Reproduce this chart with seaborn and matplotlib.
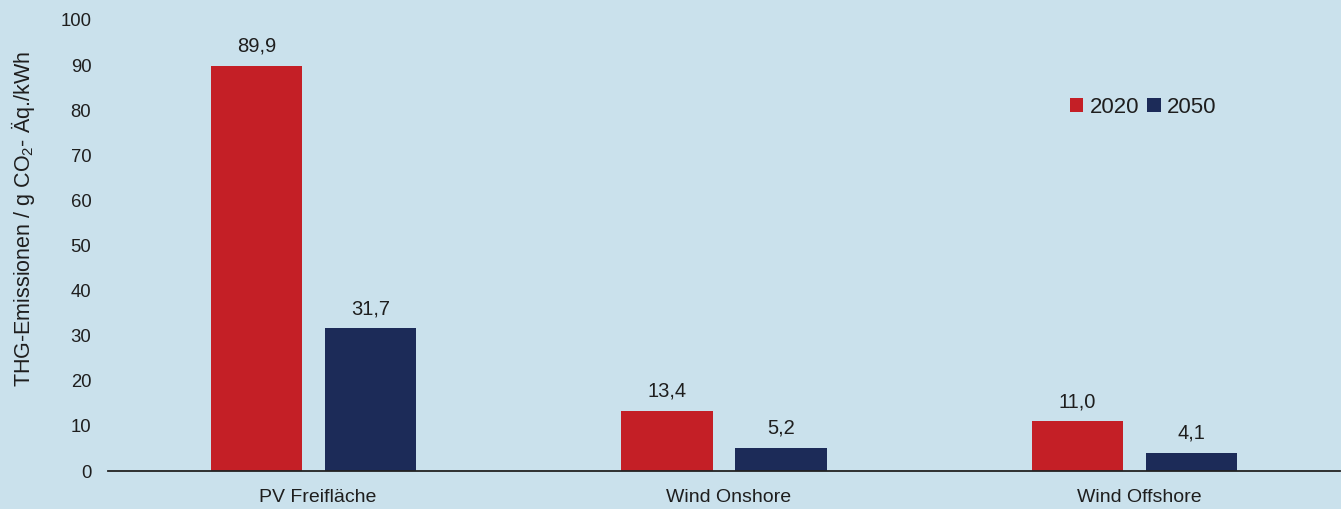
import matplotlib
matplotlib.use("Agg")
import matplotlib.pyplot as plt
from matplotlib.patches import Patch
from matplotlib.transforms import ScaledTranslation
import seaborn as sns
import pandas as pd

# Emissions per technology and year
categories = ["PV Freifläche", "Wind Onshore", "Wind Offshore"]
years = ["2020", "2050"]
values_2020 = [89.9, 13.4, 11.0]
values_2050 = [31.7, 5.2, 4.1]
y_ticks = [0, 10, 20, 30, 40, 50, 60, 70, 80, 90, 100]

bg = "#cae1ec"
colors = {"2020": "#c41f26", "2050": "#1c2b58"}
text_color = "#1e1e1e"

sns.set_theme(style="white")
plt.rcParams["font.family"] = ["Liberation Sans", "DejaVu Sans"]
plt.rcParams["mathtext.default"] = "regular"
plt.rcParams["text.color"] = text_color

df = pd.DataFrame({
    "Kategorie": categories * 2,
    "Jahr": [years[0]] * 3 + [years[1]] * 3,
    "Wert": values_2020 + values_2050,
})

fig = plt.figure(figsize=(13.41, 5.09), dpi=100, facecolor=bg)
ax = fig.add_axes([108 / 1341, 38 / 509, 1232 / 1341, 451 / 509])
ax.set_facecolor(bg)

sns.barplot(data=df, x="Kategorie", y="Wert", hue="Jahr", order=categories,
            hue_order=years, palette=colors, width=0.5555, gap=0.2016,
            linewidth=0, saturation=1, ax=ax, legend=False)

for container, vals in zip(ax.containers, [values_2020, values_2050]):
    ax.bar_label(container, labels=[f"{v:.1f}".replace(".", ",") for v in vals],
                 padding=7, fontsize=14.5, color=text_color)

ax.set_xlim(-0.5, 2.5)
ax.set_ylim(0, 100)
ax.set_yticks(y_ticks)
ax.set_yticklabels([str(t) for t in y_ticks])
ax.tick_params(axis="y", length=0, pad=12, labelsize=13.3, labelcolor=text_color)
ax.tick_params(axis="x", length=0, pad=13, labelsize=14, labelcolor=text_color)
# category labels sit slightly right of the bar-group centres
shift = ScaledTranslation(4.5 / 100, 0, fig.dpi_scale_trans)
for lbl in ax.get_xticklabels():
    lbl.set_transform(lbl.get_transform() + shift)
ax.set_xlabel("")
ax.set_ylabel("THG-Emissionen / g CO$_{2}$- Äq./kWh", fontsize=15.5, color=text_color)
ax.yaxis.set_label_coords(-0.058, 0.558)

for side in ["top", "right", "left"]:
    ax.spines[side].set_visible(False)
ax.spines["bottom"].set_color("#222222")
ax.spines["bottom"].set_linewidth(1.3)

handles = [Patch(facecolor=colors[y], edgecolor="none", label=y) for y in years]
fig.legend(handles=handles, ncol=2, frameon=False, loc="center left",
           bbox_to_anchor=(1070 / 1341, 1 - 107.5 / 509), bbox_transform=fig.transFigure,
           fontsize=16, handlelength=0.6, handleheight=0.6, handletextpad=0.3,
           columnspacing=0.35, borderpad=0, borderaxespad=0)

fig.savefig("out.png", dpi=100, facecolor=bg)
